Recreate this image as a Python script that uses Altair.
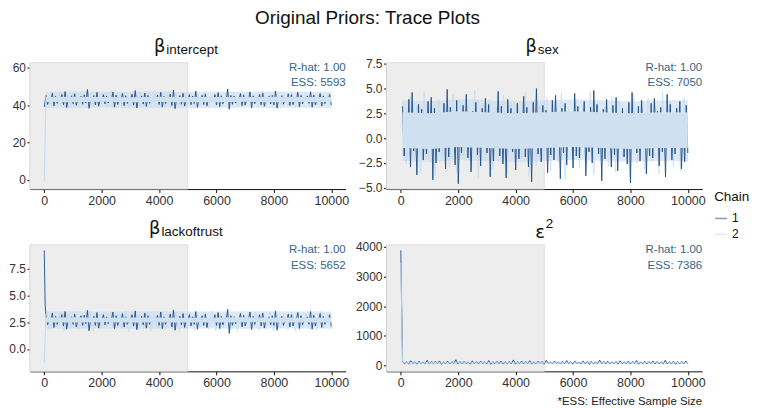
import altair as alt
import numpy as np
import pandas as pd

FONT = "Liberation Sans"
TITLE = "Original Priors: Trace Plots"
SYMBOLS = ["β", "β", "β", "ε"]
SUBS = ["intercept", "sex", "lackoftrust", ""]
SUPS = ["", "", "", "2"]
RHAT = [1.00, 1.00, 1.00, 1.00]
ESS = [5593, 7050, 5652, 7386]
FOOTNOTE = "*ESS: Effective Sample Size"
BURN_IN = 5000
X_TICKS = [0, 2000, 4000, 6000, 8000, 10000]
Y_TICKS = [[0, 20, 40, 60], [-5, -2.5, 0, 2.5, 5, 7.5], [0, 2.5, 5, 7.5], [0, 1000, 2000, 3000, 4000]]
Y_FMT = ["d", ".1f", ".1f", "d"]
Y_DOMAIN = [[-5.0, 62.8], [-5.13, 7.6], [-2.09, 9.72], [-200, 4067]]

# start-of-chain draws (iterations 0, 30)
START_ITERS = [0, 30]
C1_START = [[39.0], [], [9.2, 4.2], [3880]]
C2_START = [[-1.0], [], [-1.3], [3460]]

# chain 1 (dark) local peaks / troughs
C1_HI = [
    [45.2, 43.1, 46.4, 44.9, 42.8, 45.7, 47.3, 43.6, 45.0, 46.1, 42.9, 44.8, 45.5, 48.4, 43.4, 45.1, 46.8, 43.0, 45.6, 44.9,
     42.7, 47.0, 45.3, 43.8, 46.2, 45.0, 42.6, 45.8, 47.8, 43.3, 44.9, 46.5, 45.2, 43.5, 42.9, 45.4, 46.9, 44.8, 43.2, 45.9,
     48.1, 43.7, 45.1, 46.3, 42.8, 45.6, 44.9, 47.5, 43.1, 45.3, 46.0, 43.9, 42.7, 45.7, 46.7, 45.0, 43.4, 48.7, 45.2, 44.8,
     43.0, 46.2, 45.5, 42.9, 47.1, 45.0, 43.6, 45.8, 46.4, 43.2, 44.9, 45.3, 47.6, 43.5, 45.1, 42.8, 46.0, 45.6, 43.3, 46.9,
     45.2, 43.8, 44.9, 47.2, 45.4, 42.7, 46.1, 45.0, 43.1, 45.7],
    [3.2, 2.1, 3.9, 4.6, 1.8, 3.4, 2.9, 2.2, 3.7, 4.1, 3.0, 1.6, 2.4, 3.5, 4.9, 3.1, 2.0, 3.8, 2.3, 3.3,
     4.4, 1.9, 2.7, 3.6, 2.2, 3.0, 4.0, 3.4, 1.7, 2.5, 4.7, 3.2, 2.1, 3.9, 3.0, 2.4, 3.5, 1.8, 4.2, 3.1,
     2.0, 3.6, 5.0, 2.3, 3.3, 2.8, 1.9, 3.8, 4.3, 2.2, 3.0, 3.5, 2.6, 1.7, 4.5, 3.2, 2.4, 3.7, 2.0, 3.1,
     4.8, 3.4, 2.1, 2.9, 3.9, 1.8, 3.3, 4.1, 2.5, 3.0, 2.2, 3.6, 4.6, 2.0, 3.2, 3.8, 2.3, 1.9, 3.5, 4.0,
     2.7, 3.1, 2.1, 4.4, 3.4, 2.4, 3.0, 3.7, 1.8, 3.3],
    [3.1, 2.7, 3.35, 3.05, 2.65, 3.2, 3.5, 2.8, 3.0, 3.25, 2.7, 3.1, 3.15, 3.6, 2.75, 3.05, 3.4, 2.65, 3.2, 3.0,
     2.7, 3.45, 3.1, 2.8, 3.3, 3.0, 2.6, 3.2, 3.55, 2.75, 3.05, 3.35, 3.1, 2.8, 2.7, 3.15, 3.45, 3.0, 2.65, 3.25,
     3.65, 2.8, 3.05, 3.3, 2.7, 3.2, 3.0, 3.5, 2.75, 3.1, 3.25, 2.85, 2.65, 3.2, 3.4, 3.05, 2.75, 3.7, 3.1, 3.0,
     2.7, 3.3, 3.15, 2.65, 3.45, 3.05, 2.8, 3.2, 3.35, 2.7, 3.0, 3.1, 3.55, 2.8, 3.05, 2.65, 3.25, 3.2, 2.75, 3.4,
     3.1, 2.8, 3.0, 3.5, 3.15, 2.7, 3.3, 3.05, 2.75, 3.2],
    [130, 115, 160, 120, 140, 110, 175, 125, 135, 150, 118, 145, 122, 190, 128, 138, 112, 155, 126, 142,
     116, 168, 124, 136, 148, 119, 132, 185, 121, 144, 127, 158, 114, 139, 131, 172, 123, 146, 117, 134,
     162, 125, 141, 113, 152, 129, 137, 120, 180, 126, 143, 118, 133, 156, 122, 147, 128, 165, 115, 138,
     124, 150, 130, 119, 170, 127, 141, 121, 135, 145],
]
C1_LO = [
    [40.4, 42.3, 39.6, 41.0, 42.6, 40.2, 38.7, 42.1, 40.8, 39.9, 42.7, 40.5, 41.2, 38.3, 42.4, 40.1, 39.4, 42.0, 40.7, 41.1,
     42.5, 38.9, 40.3, 42.2, 39.7, 40.9, 42.8, 40.0, 38.5, 42.3, 40.6, 39.3, 41.0, 42.1, 42.6, 40.4, 39.0, 40.8, 42.4, 39.8,
     38.1, 42.2, 40.5, 39.5, 42.7, 40.2, 40.9, 38.8, 42.0, 40.3, 39.6, 42.5, 42.3, 40.1, 39.2, 40.7, 42.1, 37.8, 40.4, 41.1,
     42.6, 39.7, 40.0, 42.4, 38.6, 40.8, 42.2, 40.2, 39.4, 42.7, 40.6, 40.1, 38.4, 42.3, 40.5, 42.0, 39.8, 40.3, 42.5, 39.1,
     40.7, 42.1, 40.9, 38.9, 40.2, 42.6, 39.5, 40.8, 42.2, 40.0],
    [-1.8, -0.4, -2.9, -1.3, -3.7, -0.6, -2.2, -1.6, -0.3, -4.2, -2.5, -1.4, -0.8, -3.1, -1.9, -0.5, -2.7, -4.6, -1.5, -0.7,
     -2.0, -3.4, -0.4, -1.7, -2.8, -0.9, -1.5, -3.9, -2.3, -0.2, -1.8, -2.6, -4.0, -0.6, -1.4, -3.2, -2.1, -0.5, -1.9, -2.9,
     -4.4, -0.8, -1.6, -2.4, -0.3, -3.5, -1.7, -2.2, -0.7, -4.1, -1.5, -2.7, -0.4, -3.0, -1.8, -2.0, -0.6, -3.8, -1.4, -2.5,
     -0.9, -1.6, -4.3, -2.1, -0.5, -2.9, -1.7, -3.3, -0.3, -1.9, -2.6, -4.5, -0.8, -1.5, -2.3, -0.4, -3.6, -1.8, -2.0, -0.7,
     -2.8, -1.4, -3.9, -0.6, -2.2, -1.6, -0.2, -3.1, -2.4, -1.5],
    [2.25, 2.65, 2.0, 2.3, 2.7, 2.15, 1.85, 2.6, 2.3, 2.05, 2.75, 2.2, 2.35, 1.7, 2.65, 2.2, 1.95, 2.6, 2.25, 2.35,
     2.7, 1.9, 2.2, 2.6, 2.05, 2.3, 2.75, 2.15, 1.8, 2.65, 2.25, 1.95, 2.3, 2.6, 2.7, 2.2, 1.9, 2.3, 2.65, 2.05,
     1.75, 2.6, 2.25, 2.0, 2.7, 2.15, 2.3, 1.85, 2.6, 2.2, 2.0, 2.7, 2.65, 2.2, 1.9, 2.25, 2.6, 1.45, 2.2, 2.35,
     2.7, 2.05, 2.15, 2.65, 1.8, 2.3, 2.6, 2.15, 1.95, 2.7, 2.25, 2.2, 1.75, 2.65, 2.2, 2.6, 2.05, 2.15, 2.7, 1.9,
     2.25, 2.6, 2.3, 1.85, 2.15, 2.7, 2.0, 2.3, 2.6, 2.1],
    [55, 48, 62, 40, 58, 51, 44, 60, 53, 38, 57, 49, 63, 45, 54, 59, 42, 56, 50, 61,
     47, 36, 58, 52, 46, 60, 55, 41, 57, 49, 62, 44, 53, 59, 39, 56, 51, 64, 46, 54,
     58, 43, 60, 50, 55, 37, 57, 48, 61, 45, 53, 59, 42, 56, 52, 47, 60, 40, 55, 50,
     63, 44, 58, 51, 46, 57, 38, 54, 49, 60],
]
# chain 2 (light) local peaks / troughs
C2_HI = [
    [46.2, 45.0, 47.4, 45.6, 46.8, 44.9, 47.0, 45.8, 46.1, 47.6, 45.3, 46.5, 45.9, 47.2, 45.1, 46.7, 45.5, 47.8, 46.0, 45.4,
     46.9, 45.7, 47.3, 45.2, 46.4, 45.8, 47.1, 45.6, 46.6, 45.0, 47.5, 45.9, 46.3, 45.4, 47.0, 45.7, 46.8, 45.3, 47.4, 46.0],
    [3.6, 4.2, 3.1, 4.7, 3.4, 3.9, 3.0, 4.4, 3.7, 3.2, 4.8, 3.5, 3.9, 3.1, 4.3, 3.6, 3.3, 4.6, 3.8, 3.2,
     4.1, 3.5, 4.5, 3.0, 3.9, 3.4, 4.7, 3.6, 3.2, 4.2, 3.8, 3.1, 4.4, 3.5, 4.0, 3.3, 4.6, 3.7, 3.2, 4.1],
    [3.3, 3.1, 3.45, 3.2, 3.35, 3.05, 3.5, 3.25, 3.15, 3.4, 3.2, 3.55, 3.1, 3.3, 3.45, 3.2, 3.35, 3.05, 3.5, 3.25,
     3.4, 3.15, 3.3, 3.55, 3.2, 3.35, 3.1, 3.45, 3.25, 3.4, 3.15, 3.5, 3.2, 3.3, 3.45, 3.1, 3.35, 3.25, 3.5, 3.2],
    [128, 140, 115, 150, 122, 135, 118, 160, 126, 138, 112, 145, 130, 120, 155, 124, 136, 116, 148, 127,
     133, 119, 142, 125, 165, 121, 137, 114, 146, 129, 132, 117, 152, 123, 139, 126, 144, 118, 134, 128],
]
C2_LO = [
    [39.6, 40.8, 39.1, 40.3, 38.8, 40.5, 39.4, 40.9, 39.0, 40.2, 39.7, 38.7, 40.6, 39.3, 40.1, 39.8, 38.9, 40.4, 39.5, 40.7,
     39.2, 40.0, 38.6, 40.3, 39.6, 40.8, 39.1, 40.2, 39.9, 38.8, 40.5, 39.4, 40.1, 39.7, 38.9, 40.6, 39.3, 40.0, 39.5, 40.4],
    [-2.6, -1.9, -3.4, -2.2, -3.8, -2.0, -2.9, -3.5, -1.8, -2.7, -4.0, -2.3, -3.1, -1.9, -3.6, -2.5, -2.1, -3.9, -2.8, -2.0,
     -3.3, -2.4, -4.1, -1.9, -3.0, -2.6, -3.7, -2.2, -2.8, -3.4, -2.0, -3.9, -2.5, -3.1, -2.3, -3.6, -1.9, -2.9, -3.3, -2.4],
    [1.85, 2.05, 1.7, 1.95, 1.8, 2.0, 1.65, 1.9, 2.05, 1.75, 1.9, 1.6, 1.95, 1.85, 1.7, 2.0, 1.8, 1.95, 1.65, 1.9,
     1.75, 2.05, 1.85, 1.7, 1.95, 1.8, 1.6, 1.9, 2.0, 1.75, 1.85, 1.65, 1.95, 1.8, 1.7, 2.0, 1.85, 1.75, 1.9, 1.8],
    [58, 66, 50, 62, 45, 60, 54, 68, 52, 57, 48, 64, 55, 61, 47, 59, 63, 51, 56, 65,
     49, 60, 53, 67, 46, 58, 62, 50, 55, 64, 52, 57, 48, 61, 59, 54, 66, 51, 56, 60],
]
# envelope of the densely over-plotted region (iterations)
BAND_X = [60, 1000, 2000, 3000, 4000, 5000, 6000, 7000, 8000, 9000, 10000]
CORE_LO = [[41.7, 41.5, 41.8, 41.6, 41.7, 41.5, 41.6, 41.8, 41.6, 41.7, 41.6],
           [-1.0, -1.1, -0.9, -1.0, -1.1, -1.0, -0.9, -1.0, -1.1, -1.0, -1.0],
           [2.48, 2.46, 2.5, 2.47, 2.48, 2.46, 2.47, 2.49, 2.47, 2.48, 2.47],
           [70, 68, 71, 69, 70, 68, 69, 71, 70, 69, 70]]
CORE_HI = [[44.3, 44.5, 44.4, 44.2, 44.5, 44.3, 44.4, 44.3, 44.5, 44.4, 44.3],
           [2.6, 2.5, 2.7, 2.6, 2.5, 2.6, 2.7, 2.6, 2.5, 2.6, 2.6],
           [2.93, 2.95, 2.91, 2.93, 2.94, 2.92, 2.93, 2.95, 2.93, 2.92, 2.93],
           [100, 102, 99, 101, 100, 102, 101, 99, 100, 101, 100]]
FRINGE_LO = [[38.6, 38.4, 38.7, 38.5, 38.6, 38.4, 38.5, 38.7, 38.5, 38.6, 38.5],
             [-2.3, -2.4, -2.2, -2.3, -2.4, -2.3, -2.2, -2.3, -2.4, -2.3, -2.3],
             [1.9, 1.88, 1.92, 1.9, 1.89, 1.91, 1.9, 1.88, 1.9, 1.91, 1.9],
             [55, 54, 56, 55, 55, 54, 55, 56, 55, 54, 55]]
FRINGE_HI = [[47.1, 47.3, 47.2, 47.0, 47.3, 47.1, 47.2, 47.1, 47.3, 47.2, 47.1],
             [3.8, 3.7, 3.9, 3.8, 3.7, 3.8, 3.9, 3.8, 3.7, 3.8, 3.8],
             [3.5, 3.52, 3.48, 3.5, 3.51, 3.49, 3.5, 3.52, 3.5, 3.49, 3.5],
             [118, 120, 117, 119, 118, 120, 119, 117, 118, 119, 118]]

# title placement inside each panel (pixels from plot-area left)
TITLE_X = [136, 151, 131, 159]

DARK = "#1d4e89"
LIGHT = "#c6dbef"
CORE = "#cfe0f1"
GRAY = "#ededed"
ANNOT = "#36648b"
W, H = 317, 127


def trace(start, hi, lo, chain):
    xs = list(START_ITERS[:len(start)])
    ys = list(start)
    zz = [v for pair in zip(hi, lo) for v in pair]
    xs += list(np.linspace(60, 10000, len(zz)))
    ys += zz
    return pd.DataFrame({"x": xs, "y": ys, "chain": chain})


color_enc = alt.Color(
    "chain:N",
    scale=alt.Scale(domain=["1", "2"], range=[DARK, LIGHT]),
    legend=alt.Legend(title="Chain", orient="none", legendX=687, legendY=128,
                      symbolType="stroke", symbolStrokeWidth=1.5, symbolSize=144,
                      symbolOpacity=0.55, titleFontSize=13.5, labelFontSize=12,
                      titleFontWeight="normal", titleFont=FONT, labelFont=FONT,
                      titleColor="#111", labelColor="#111", rowPadding=3, titlePadding=8),
)


def panel(i):
    def xe(f):
        return alt.X(f, type="quantitative",
                     scale=alt.Scale(domain=[-500, 10500], nice=False, zero=False),
                     axis=alt.Axis(values=X_TICKS, format="d", title=None, grid=False))

    def ye(f):
        return alt.Y(f, type="quantitative",
                     scale=alt.Scale(domain=Y_DOMAIN[i], nice=False, zero=False),
                     axis=alt.Axis(values=Y_TICKS[i], format=Y_FMT[i], title=None, grid=False,
                                   labelFontSize=12, tickSize=3, labelPadding=1.5))

    rect_df = pd.DataFrame({"x0": [-500], "x1": [BURN_IN], "y0": [Y_DOMAIN[i][0]], "y1": [Y_DOMAIN[i][1]]})
    band_df = pd.DataFrame({"x": BAND_X, "clo": CORE_LO[i], "chi": CORE_HI[i],
                            "flo": FRINGE_LO[i], "fhi": FRINGE_HI[i]})
    d1 = trace(C1_START[i], C1_HI[i], C1_LO[i], "1")
    d2 = trace(C2_START[i], C2_HI[i], C2_LO[i], "2")
    n_start = len(C2_START[i])
    d2_start = d2.iloc[:n_start + 1] if n_start else d2.iloc[:0]

    rect = alt.Chart(rect_df).mark_rect(color=GRAY, stroke="#d9d9d9", strokeWidth=0.8).encode(
        x=xe("x0"), x2="x1", y=ye("y0"), y2="y1")
    fringe = alt.Chart(band_df).mark_area(color=LIGHT, opacity=0.6, clip=True).encode(
        x=xe("x"), y=ye("flo"), y2="fhi")
    light = alt.Chart(d2).mark_line(strokeWidth=0.7, clip=True).encode(
        x=xe("x"), y=ye("y"), color=color_enc)
    dark = alt.Chart(d1).mark_line(strokeWidth=0.9, clip=True).encode(
        x=xe("x"), y=ye("y"), color=color_enc)
    core = alt.Chart(band_df).mark_area(color=CORE, clip=True).encode(
        x=xe("x"), y=ye("clo"), y2="chi")
    light_start = alt.Chart(d2_start).mark_line(strokeWidth=0.9, clip=True).encode(
        x=xe("x"), y=ye("y"), color=color_enc)

    texts = pd.DataFrame({"t": [f"R-hat: {RHAT[i]:.2f}", f"ESS: {ESS[i]}"], "dy": [8, 24]})
    ann = alt.Chart(texts).mark_text(align="right", baseline="alphabetic", fontSize=11.5,
                                     font=FONT, color=ANNOT).encode(
        x=alt.value(W), y=alt.Y("dy:Q", scale=None), text="t:N")

    sym = alt.Chart(pd.DataFrame({"t": [SYMBOLS[i]]})).mark_text(
        align="right", baseline="alphabetic", fontSize=18, font="DejaVu Sans", color="#111").encode(
        x=alt.value(TITLE_X[i]), y=alt.value(-11 if SUBS[i] else -7), text="t:N")
    layers = [rect, fringe, light, dark, core]
    if n_start:
        layers.append(light_start)
    layers += [ann, sym]
    if SUBS[i]:
        layers.append(alt.Chart(pd.DataFrame({"t": [SUBS[i]]})).mark_text(
            align="left", baseline="alphabetic", fontSize=13.5, font=FONT, color="#111").encode(
            x=alt.value(TITLE_X[i] + 1), y=alt.value(-9), text="t:N"))
    if SUPS[i]:
        layers.append(alt.Chart(pd.DataFrame({"t": [SUPS[i]]})).mark_text(
            align="left", baseline="alphabetic", fontSize=13.5, font=FONT, color="#111").encode(
            x=alt.value(TITLE_X[i] + 1), y=alt.value(-17), text="t:N"))
    if i == 3:
        layers.append(alt.Chart(pd.DataFrame({"t": [FOOTNOTE]})).mark_text(
            align="right", baseline="alphabetic", fontSize=11.5, font=FONT, color="#222").encode(
            x=alt.value(W), y=alt.value(H + 34), text="t:N"))
    return alt.layer(*layers).properties(width=W, height=H)


chart = alt.concat(panel(0), panel(1), panel(2), panel(3), columns=2,
                   spacing=alt.RowColnumber(row=10, column=6)).properties(
    title=alt.TitleParams(TITLE, fontSize=19, font=FONT, fontWeight="normal", color="#111",
                          anchor="middle", offset=10, dx=-12),
    padding={"left": 0, "top": 0, "right": 0, "bottom": 0},
).configure_view(stroke=None).configure_axis(
    domainColor="#111", domainWidth=1, tickColor="#111", tickSize=3.5, tickWidth=1,
    labelColor="#333", labelFont=FONT, labelFontSize=12.5, labelPadding=2,
)

chart.save("out.html", embed_options={"renderer": "svg", "actions": False})
